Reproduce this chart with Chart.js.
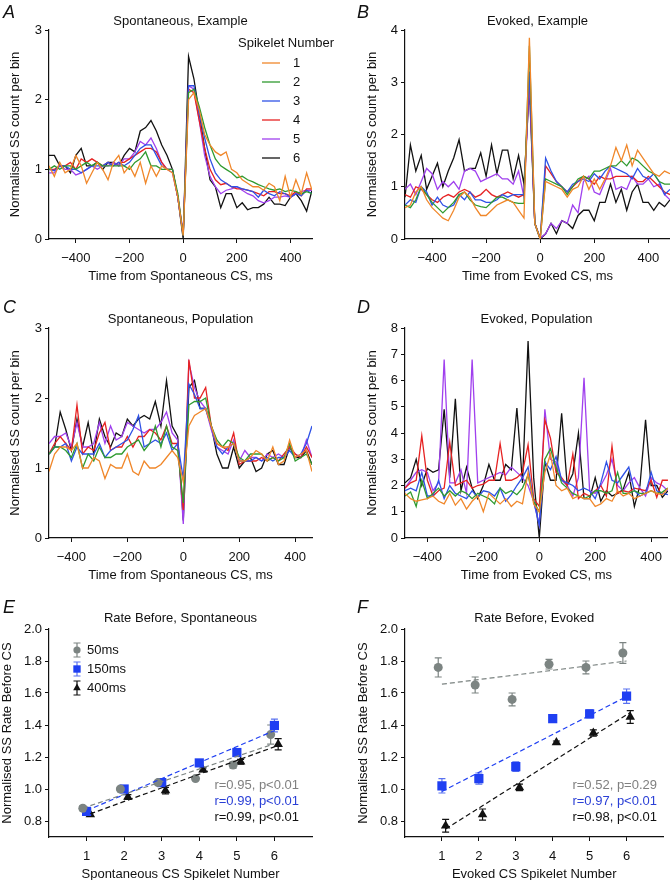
<!DOCTYPE html>
<html>
<head>
<meta charset="utf-8">
<script src="https://cdn.jsdelivr.net/npm/chart.js@4.4.1/dist/chart.umd.min.js"></script>
<style>
  body { margin: 0; background: #fff; width: 670px; height: 880px; position: relative; overflow: hidden;
         font-family: "Liberation Sans", Arial, sans-serif; }
  canvas { position: absolute; }
  .letter { position: absolute; font-style: italic; font-size: 18px; line-height: 18px; color: #111; }
</style>
</head>
<body>
<canvas id="pA" width="335" height="287" style="left:0;top:0"></canvas>
<canvas id="pB" width="335" height="287" style="left:335px;top:0"></canvas>
<canvas id="pC" width="335" height="296" style="left:0;top:290px"></canvas>
<canvas id="pD" width="335" height="296" style="left:335px;top:290px"></canvas>
<canvas id="pE" width="335" height="305" style="left:0;top:580px"></canvas>
<canvas id="pF" width="335" height="305" style="left:335px;top:580px"></canvas>
<div class="letter" style="left:3px;top:3px">A</div>
<div class="letter" style="left:357px;top:3px">B</div>
<div class="letter" style="left:3px;top:298px">C</div>
<div class="letter" style="left:357px;top:298px">D</div>
<div class="letter" style="left:3px;top:598px">E</div>
<div class="letter" style="left:357px;top:598px">F</div>
<script>
// ---- data ----
const spikeletNames = ['1', '2', '3', '4', '5', '6'];
const seriesColors = ['#f0872a', '#2f9a2f', '#2f52e6', '#e62222', '#a040ee', '#111111'];

const binsExample = [-500, -480, -460, -440, -420, -400, -380, -360, -340, -320,
  -300, -280, -260, -240, -220, -200, -180, -160, -140, -120,
  -100, -80, -60, -40, -20, 0, 20, 40, 60, 80,
  100, 120, 140, 160, 180, 200, 220, 240, 260, 280,
  300, 320, 340, 360, 380, 400, 420, 440, 460, 480];
const binsPopulation = [-480, -460, -440, -420, -400, -380, -360, -340, -320, -300,
  -280, -260, -240, -220, -200, -180, -160, -140, -120, -100,
  -80, -60, -40, -20, 0, 20, 40, 60, 80, 100,
  120, 140, 160, 180, 200, 220, 240, 260, 280, 300,
  320, 340, 360, 380, 400, 420, 440, 460];
const timeTicks = [-400, -200, 0, 200, 400];

// A: spontaneous, example
const spontEx1 = [1.05, 0.9, 1.1, 0.95, 1.0, 1.2, 1.05, 0.8, 0.95, 1.1,
  1.0, 0.85, 1.1, 1.2, 0.95, 1.05, 0.9, 1.1, 0.8, 1.05,
  0.9, 1.05, 1.0, 0.95, 0.6, 0.05, 2.0, 2.1, 1.85, 1.5,
  1.35, 1.25, 1.2, 1.25, 1.0, 0.95, 0.85, 0.8, 0.75, 0.75,
  0.7, 0.8, 0.75, 0.55, 0.9, 0.6, 0.85, 0.65, 0.95, 0.7];
const spontEx2 = [1.0, 1.05, 1.0, 1.05, 1.05, 1.0, 1.05, 1.1, 1.05, 1.1,
  1.05, 1.05, 1.05, 1.05, 1.05, 1.0, 1.1, 1.15, 1.25, 1.05,
  1.05, 1.0, 1.0, 1.0, 0.65, 0.05, 2.1, 2.15, 1.9, 1.6,
  1.35, 1.15, 1.05, 1.0, 0.95, 0.88, 0.9, 0.85, 0.82, 0.78,
  0.75, 0.72, 0.7, 0.72, 0.68, 0.7, 0.68, 0.65, 0.68, 0.65];
const spontEx3 = [1.0, 0.98, 1.05, 1.05, 1.0, 1.0, 0.95, 1.0, 1.05, 1.05,
  1.05, 1.1, 1.05, 1.1, 1.05, 1.1, 1.2, 1.3, 1.35, 1.35,
  1.2, 1.05, 1.0, 1.0, 0.6, 0.05, 2.2, 2.2, 1.8, 1.45,
  1.15, 0.95, 0.85, 0.8, 0.75, 0.75, 0.72, 0.7, 0.68, 0.6,
  0.7, 0.65, 0.62, 0.68, 0.65, 0.6, 0.65, 0.62, 0.7, 0.65];
const spontEx4 = [1.0, 1.0, 1.05, 1.05, 1.1, 1.0, 1.15, 1.1, 1.15, 1.1,
  1.05, 1.1, 1.05, 1.1, 1.1, 1.15, 1.2, 1.25, 1.3, 1.3,
  1.25, 1.1, 1.0, 1.0, 0.6, 0.05, 2.15, 2.1, 1.7, 1.3,
  1.0, 0.85, 0.78, 0.8, 0.75, 0.72, 0.72, 0.7, 0.68, 0.65,
  0.62, 0.68, 0.68, 0.65, 0.65, 0.62, 0.68, 0.62, 0.72, 0.72];
const spontEx5 = [0.95, 0.95, 1.05, 1.0, 1.0, 0.92, 0.95, 1.0, 1.05, 1.0,
  1.05, 1.05, 1.1, 1.05, 1.15, 1.15, 1.25, 1.4, 1.35, 1.45,
  1.3, 1.1, 1.0, 0.95, 0.6, 0.1, 2.2, 2.15, 1.7, 1.2,
  0.9, 0.75, 0.65, 0.7, 0.72, 0.75, 0.7, 0.65, 0.62, 0.55,
  0.52, 0.55, 0.6, 0.6, 0.62, 0.6, 0.65, 0.68, 0.7, 0.7];
const spontEx6 = [1.2, 1.2, 1.05, 1.05, 0.95, 1.2, 1.3, 1.05, 1.05, 1.1,
  1.0, 1.1, 1.1, 1.05, 1.2, 1.3, 1.25, 1.55, 1.6, 1.7,
  1.55, 1.35, 1.2, 1.0, 0.6, 0.0, 2.62, 2.3, 1.8, 1.3,
  0.85, 0.75, 0.45, 0.65, 0.65, 0.45, 0.52, 0.42, 0.45, 0.45,
  0.5, 0.6, 0.5, 0.5, 0.48, 0.6, 0.65, 0.55, 0.4, 0.7];

// B: evoked, example
const evokEx1 = [0.6, 0.65, 0.9, 1.0, 0.75, 0.6, 0.5, 0.4, 0.35, 0.55,
  0.8, 0.9, 0.8, 0.6, 0.45, 0.45, 0.55, 0.65, 0.7, 0.75,
  0.7, 0.55, 0.4, 3.85, 0.3, 0.0, 1.1, 1.05, 1.0, 0.95,
  0.8, 0.95, 1.0, 1.2, 0.95, 1.15, 0.95, 1.15, 1.4, 1.75,
  1.5, 1.8, 1.4, 1.7, 1.55, 1.4, 1.25, 1.2, 1.3, 1.25];
const evokEx2 = [0.65, 0.6, 0.75, 1.0, 0.85, 0.7, 0.6, 0.5, 0.6, 0.7,
  0.85, 0.9, 0.75, 0.65, 0.62, 0.6, 0.7, 0.8, 0.8, 0.75,
  0.7, 0.68, 0.68, 3.7, 0.3, 0.0, 1.15, 1.1, 1.05, 1.0,
  0.85, 1.0, 1.15, 1.2, 1.15, 1.3, 1.3, 1.35, 1.4, 1.4,
  1.5, 1.4, 1.55, 1.5, 1.4, 1.3, 1.25, 1.1, 1.05, 1.05];
const evokEx3 = [0.65, 0.75, 0.7, 1.0, 0.9, 0.65, 0.8, 0.65, 0.6, 0.65,
  0.85, 0.75, 0.9, 0.75, 0.75, 0.7, 0.7, 0.75, 0.85, 0.8,
  0.85, 0.85, 0.85, 3.2, 0.3, 0.0, 1.55, 1.3, 1.1, 1.0,
  0.9, 1.05, 1.1, 1.15, 1.1, 1.25, 1.15, 1.3, 1.4, 1.35,
  1.3, 1.25, 1.15, 1.35, 1.2, 1.15, 1.25, 1.1, 0.85, 0.95];
const evokEx4 = [0.85, 0.8, 1.0, 0.95, 0.85, 0.75, 0.7, 0.8, 0.85, 0.8,
  0.9, 0.95, 0.9, 0.8, 0.85, 0.95, 0.85, 0.8, 0.85, 0.9,
  0.85, 0.8, 0.85, 3.2, 0.3, 0.0, 1.4, 1.25, 1.1, 1.0,
  0.9, 1.0, 1.1, 1.2, 1.15, 1.05, 1.2, 1.15, 1.15, 1.2,
  1.2, 1.2, 1.2, 1.1, 1.1, 1.2, 1.1, 1.0, 0.9, 0.85];
const evokEx5 = [0.95, 1.05, 0.85, 1.1, 1.35, 1.25, 0.95, 1.1, 1.0, 1.1,
  0.95, 1.3, 1.35, 1.3, 1.1, 1.15, 1.2, 1.25, 1.15, 1.15,
  1.05, 1.3, 0.8, 3.0, 0.3, 0.02, 0.1, 0.3, 0.2, 0.35,
  0.3, 0.65, 0.5, 1.1, 1.2, 0.9, 0.85, 1.1, 1.35, 0.95,
  1.0, 0.95, 1.2, 1.05, 1.05, 1.15, 1.0, 1.05, 0.85, 0.75];
const evokEx6 = [0.8, 1.8, 1.3, 1.6, 0.95, 1.2, 1.45, 1.0, 1.3, 1.55,
  1.9, 1.3, 1.35, 1.35, 1.65, 1.2, 1.8, 1.25, 1.7, 1.7,
  1.15, 1.6, 1.05, 2.9, 0.3, 0.0, 0.1, 0.3, 0.1, 0.35,
  0.3, 0.2, 0.45, 0.55, 0.55, 0.35, 0.7, 0.7, 1.05, 0.7,
  0.95, 0.55, 0.9, 1.05, 0.7, 0.7, 0.55, 0.7, 0.62, 0.75];

// C: spontaneous, population
const spontPop1 = [0.95, 1.2, 1.3, 1.3, 1.25, 1.35, 1.0, 1.0, 1.15, 1.1,
  0.85, 1.05, 1.0, 1.0, 1.2, 0.95, 0.9, 1.1, 1.0, 1.0,
  1.05, 1.15, 1.25, 1.15, 0.8, 1.6, 1.75, 1.8, 1.85, 1.6,
  1.35, 1.3, 1.3, 1.35, 1.1, 1.1, 1.15, 1.25, 1.2, 1.1,
  1.3, 1.05, 1.1, 1.4, 1.15, 1.2, 1.25, 0.95];
const spontPop2 = [1.2, 1.3, 1.3, 1.25, 1.15, 1.35, 1.0, 1.2, 1.1, 1.3,
  1.15, 1.15, 1.2, 1.2, 1.3, 1.35, 1.4, 1.25, 1.35, 1.6,
  1.3, 1.6, 1.3, 1.25, 0.5, 1.9, 1.95, 1.95, 2.0, 1.6,
  1.4, 1.3, 1.4, 1.35, 1.15, 1.1, 1.2, 1.2, 1.2, 1.1,
  1.15, 1.1, 1.15, 1.35, 1.1, 1.15, 1.2, 1.05];
const spontPop3 = [1.2, 1.3, 1.3, 1.35, 1.1, 1.3, 1.2, 1.2, 1.2, 1.35,
  1.15, 1.25, 1.3, 1.35, 1.4, 1.55, 1.75, 1.3, 1.35, 1.4,
  1.35, 1.5, 1.25, 1.35, 0.85, 2.2, 2.05, 1.85, 1.85, 1.6,
  1.3, 1.2, 1.3, 1.35, 1.1, 1.1, 1.1, 1.15, 1.1, 1.15,
  1.1, 1.15, 1.15, 1.25, 1.15, 1.2, 1.35, 1.6];
const spontPop4 = [1.2, 1.35, 1.45, 1.35, 1.25, 1.9, 1.2, 1.3, 1.25, 1.5,
  1.65, 1.25, 1.3, 1.3, 1.45, 1.3, 1.45, 1.45, 1.55, 1.5,
  1.4, 1.6, 1.35, 1.35, 0.4, 2.55, 2.0, 2.0, 2.15, 1.6,
  1.35, 1.3, 1.25, 1.5, 1.05, 1.1, 1.1, 1.1, 1.15, 1.1,
  1.15, 1.1, 1.2, 1.3, 1.2, 1.15, 1.3, 1.15];
const spontPop5 = [1.35, 1.45, 1.45, 1.5, 1.3, 1.65, 1.3, 1.3, 1.35, 1.65,
  1.35, 1.6, 1.4, 1.45, 1.65, 1.6, 1.55, 1.5, 1.55, 1.55,
  1.65, 1.8, 1.5, 1.4, 0.2, 2.5, 2.15, 1.95, 1.85, 1.55,
  1.3, 1.25, 1.2, 1.4, 1.1, 1.25, 1.15, 1.15, 1.1, 1.2,
  1.15, 1.2, 1.15, 1.3, 1.2, 1.15, 1.4, 1.15];
const spontPop6 = [1.2, 1.3, 1.8, 1.55, 1.25, 1.7, 1.3, 1.65, 1.2, 1.7,
  1.45, 1.3, 1.5, 1.45, 1.7, 1.6, 1.7, 1.75, 1.7, 1.95,
  1.6, 2.25, 1.6, 1.45, 0.25, 2.15, 2.25, 1.85, 1.85, 1.6,
  1.2, 1.0, 1.0, 1.3, 1.0, 1.1, 1.15, 0.95, 1.0, 1.2,
  1.25, 1.05, 1.05, 1.3, 1.15, 1.15, 1.25, 1.05];

// D: evoked, population
const evokPop1 = [1.7, 1.5, 1.4, 1.45, 1.5, 1.6, 1.4, 1.3, 1.7, 1.25,
  1.5, 1.1, 1.4, 1.6, 1.0, 1.7, 1.5, 1.3, 1.5, 1.2,
  1.4, 1.3, 2.5, 1.3, 1.0, 2.5, 3.2, 2.0, 1.8, 1.9,
  1.5, 1.6, 1.5, 1.5, 1.2, 1.3, 1.5, 1.4, 1.8, 1.6,
  1.7, 1.5, 1.6, 1.7, 1.8, 1.7, 1.65, 1.9];
const evokPop2 = [1.6, 1.75, 1.2, 2.2, 1.5, 1.7, 1.9, 1.6, 1.8, 1.6,
  1.8, 1.7, 1.5, 1.7, 1.6, 1.5, 1.3, 1.9, 1.7, 1.8,
  1.65, 1.9, 2.4, 1.4, 1.0, 3.0, 3.4, 2.7, 2.1, 1.9,
  1.7, 1.6, 1.5, 1.6, 1.8, 1.8, 1.7, 1.8, 2.5, 1.7,
  1.7, 1.8, 1.7, 1.7, 1.8, 1.7, 1.75, 1.9];
const evokPop3 = [1.8, 1.9, 1.8, 2.5, 1.6, 1.6, 2.2, 1.5, 2.0, 1.7,
  1.6, 1.5, 1.8, 1.55, 1.8, 1.75, 1.6, 1.9, 1.4, 1.65,
  2.0, 2.3, 2.7, 1.4, 0.5, 2.9, 2.6, 3.1, 2.2, 2.1,
  2.0, 1.8, 1.9, 1.8, 1.5, 2.1, 2.9, 2.2, 2.1, 2.4,
  2.7, 1.8, 1.6, 1.7, 2.5, 1.8, 1.7, 1.65];
const evokPop4 = [1.9, 2.1, 2.2, 3.9, 2.2, 1.6, 1.8, 1.9, 3.65, 2.0,
  2.1, 2.2, 1.9, 2.0, 2.05, 2.2, 2.2, 3.6, 2.2, 2.2,
  2.3, 2.5, 3.55, 1.5, 1.2, 4.5, 3.8, 2.5, 2.3, 2.0,
  3.2, 1.5, 1.7, 1.6, 1.8, 2.0, 1.6, 3.5, 1.7, 1.8,
  1.75, 1.9, 1.85, 1.8, 2.2, 1.55, 2.2, 2.2];
const evokPop5 = [1.9, 2.2, 2.5, 2.6, 2.5, 1.8, 2.1, 6.8, 2.1, 2.1,
  2.6, 1.7, 6.8, 2.1, 2.2, 2.3, 2.4, 2.5, 2.4, 2.7,
  2.5, 2.3, 2.0, 1.4, 0.5, 4.9, 3.0, 2.9, 2.2, 2.0,
  1.6, 2.3, 6.1, 1.8, 1.7, 2.0, 2.4, 3.0, 2.0, 1.8,
  2.1, 2.3, 1.9, 1.6, 2.3, 2.1, 2.0, 1.8];
const evokPop6 = [2.1, 2.3, 3.0, 2.0, 2.65, 2.5, 2.6, 4.9, 2.3, 5.3,
  1.8, 2.7, 1.9, 1.5, 2.0, 2.8, 2.2, 2.2, 2.8, 2.6,
  4.95, 2.1, 7.5, 2.3, 0.0, 2.9, 2.2, 2.2, 4.75, 2.0,
  2.45, 4.0, 1.5, 1.5, 2.3, 1.4, 1.8, 1.6, 1.7, 1.85,
  2.5, 1.2, 2.0, 4.5, 2.0, 2.0, 1.55, 1.8];

// E, F: rate before CS
const spikelets = [1, 2, 3, 4, 5, 6];
const spikeletTicks = [1, 2, 3, 4, 5, 6];
const rateTicks = [0.8, 1.0, 1.2, 1.4, 1.6, 1.8, 2.0];
const rateGroups = ['50ms', '150ms', '400ms'];
const rateOffsets = [-0.1, 0, 0.1];

const spont50 = [0.88, 1.0, 1.04, 1.065, 1.15, 1.34];
const spont50Err = [0.015, 0.01, 0.01, 0.012, 0.02, 0.06];
const spont150 = [0.86, 1.0, 1.04, 1.163, 1.228, 1.397];
const spont150Err = [0.015, 0.012, 0.012, 0.012, 0.015, 0.04];
const spont400 = [0.84, 0.95, 0.99, 1.12, 1.17, 1.28];
const spont400Err = [0.012, 0.015, 0.02, 0.012, 0.015, 0.035];
const spontFit50 = [[0.9, 5.9], [0.88, 1.275]];
const spontFit150 = [[1.0, 6.0], [0.865, 1.365]];
const spontFit400 = [[1.1, 6.1], [0.845, 1.272]];
const spontStats = ['r=0.95, p<0.01', 'r=0.99, p<0.01', 'r=0.99, p<0.01'];

const evok50 = [1.76, 1.65, 1.56, 1.78, 1.76, 1.85];
const evok50Err = [0.06, 0.05, 0.04, 0.03, 0.04, 0.065];
const evok150 = [1.02, 1.065, 1.14, 1.44, 1.47, 1.58];
const evok150Err = [0.045, 0.035, 0.03, 0.01, 0.025, 0.045];
const evok400 = [0.77, 0.84, 1.01, 1.29, 1.35, 1.45];
const evok400Err = [0.04, 0.035, 0.02, 0.01, 0.02, 0.04];
const evokFit50 = [[1.0, 6.0], [1.655, 1.80]];
const evokFit150 = [[1.0, 6.0], [0.985, 1.578]];
const evokFit400 = [[1.1, 6.1], [0.75, 1.478]];
const evokStats = ['r=0.52, p=0.29', 'r=0.97, p<0.01', 'r=0.98, p<0.01'];

const rateColors = ['#7c8482', '#1f3ff2', '#111111'];
const rateErrColors = ['#7c8482', '#5a72f0', '#111111'];
const rateTextColors = ['#808080', '#2a3fd6', '#111111'];
const ratePointStyles = ['circle', 'rect', 'triangle'];
const ratePointSizes = [4.5, 6.5, 5.5];

// ---- setup ----
const FONT = '"Liberation Sans", Arial, sans-serif';
Chart.defaults.font.family = FONT;
Chart.defaults.font.size = 13;
Chart.defaults.color = '#111';

const panelTitle = {
  id: 'panelTitle',
  afterDraw(chart, args, opts) {
    const a = chart.chartArea, ctx = chart.ctx;
    ctx.save();
    ctx.font = '13px ' + FONT;
    ctx.fillStyle = '#111';
    ctx.textAlign = 'center';
    ctx.textBaseline = 'middle';
    ctx.fillText(opts.text, (a.left + a.right) / 2, a.top - opts.gap);
    ctx.restore();
  }
};

const spikeletLegend = {
  id: 'spikeletLegend',
  afterDraw(chart, args, opts) {
    if (!opts.show) return;
    const a = chart.chartArea, ctx = chart.ctx;
    ctx.save();
    ctx.font = '13px ' + FONT;
    ctx.fillStyle = '#111';
    ctx.textBaseline = 'middle';
    ctx.textAlign = 'left';
    ctx.fillText(opts.title, a.left + 189, a.top + 13);
    chart.data.datasets.forEach((ds, i) => {
      const y = a.top + 33 + i * 19;
      ctx.strokeStyle = ds.borderColor;
      ctx.lineWidth = 1.3;
      ctx.beginPath();
      ctx.moveTo(a.left + 213, y);
      ctx.lineTo(a.left + 231, y);
      ctx.stroke();
      ctx.fillText(ds.label, a.left + 244, y);
    });
    ctx.restore();
  }
};

function drawErrBar(ctx, x, y1, y2, color) {
  ctx.strokeStyle = color;
  ctx.lineWidth = 1.2;
  ctx.beginPath();
  ctx.moveTo(x, y1); ctx.lineTo(x, y2);
  ctx.moveTo(x - 3.5, y1); ctx.lineTo(x + 3.5, y1);
  ctx.moveTo(x - 3.5, y2); ctx.lineTo(x + 3.5, y2);
  ctx.stroke();
}

const errorBars = {
  id: 'errorBars',
  beforeDatasetsDraw(chart) {
    const ctx = chart.ctx, ys = chart.scales.y;
    ctx.save();
    chart.data.datasets.forEach((ds, i) => {
      if (!ds.errors) return;
      const meta = chart.getDatasetMeta(i);
      meta.data.forEach((el, j) => {
        const v = ds.data[j].y, e = ds.errors[j];
        drawErrBar(ctx, el.x, ys.getPixelForValue(v + e), ys.getPixelForValue(v - e), ds.errColor);
      });
    });
    ctx.restore();
  }
};

const rateLegend = {
  id: 'rateLegend',
  afterDraw(chart, args, opts) {
    if (!opts.show) return;
    const a = chart.chartArea, ctx = chart.ctx;
    ctx.save();
    ctx.font = '13px ' + FONT;
    ctx.textBaseline = 'middle';
    ctx.textAlign = 'left';
    chart.data.datasets.filter(ds => ds.errors).forEach((ds, i) => {
      const x = a.left + 28, y = a.top + 21 + i * 19;
      drawErrBar(ctx, x, y - 7, y + 7, ds.errColor);
      ctx.fillStyle = ds.backgroundColor;
      ctx.strokeStyle = ds.backgroundColor;
      Chart.helpers.drawPoint(ctx, {pointStyle: ds.pointStyle, radius: ds.pointRadius * 0.8, rotation: 0, borderWidth: 0}, x, y);
      ctx.fillStyle = '#111';
      ctx.fillText(ds.label, x + 10, y);
    });
    ctx.restore();
  }
};

const statsText = {
  id: 'statsText',
  afterDraw(chart, args, opts) {
    const a = chart.chartArea, ctx = chart.ctx;
    ctx.save();
    ctx.font = '13px ' + FONT;
    ctx.textBaseline = 'middle';
    ctx.textAlign = 'right';
    opts.lines.forEach((t, i) => {
      ctx.fillStyle = rateTextColors[i];
      ctx.fillText(t, a.left + opts.right, a.top + 156 + i * 16);
    });
    ctx.restore();
  }
};

function axisX(min, max, ticks, title) {
  return {
    type: 'linear', min: min, max: max,
    afterBuildTicks: s => { s.ticks = ticks.map(v => ({value: v})); },
    afterFit: s => { s.height = 48; },
    grid: {drawOnChartArea: false, drawTicks: true, tickLength: 4, color: '#111'},
    border: {color: '#111', width: 1.2},
    ticks: {padding: 8, color: '#111', maxRotation: 0, autoSkip: false,
            callback: v => String(v).replace('-', '\u2212')},
    title: {display: true, text: title, color: '#111', padding: {top: 0, bottom: 3}}
  };
}

function axisY(min, max, ticks, title, width, titlePad, fmt) {
  return {
    type: 'linear', min: min, max: max,
    afterBuildTicks: s => { s.ticks = ticks.map(v => ({value: v})); },
    afterFit: s => { s.width = width; },
    grid: {drawOnChartArea: false, drawTicks: true, tickLength: 4, color: '#111'},
    border: {color: '#111', width: 1.2},
    ticks: {padding: 3, color: '#111', autoSkip: false, callback: fmt || (v => String(v))},
    title: {display: true, text: title, color: '#111', padding: {top: titlePad, bottom: 0}}
  };
}

function seriesSets(bins, series) {
  return series.map((vals, i) => ({
    label: spikeletNames[i],
    data: bins.map((t, j) => ({x: t, y: vals[j]})),
    borderColor: seriesColors[i],
    backgroundColor: seriesColors[i],
    borderWidth: 1.3,
    pointRadius: 0,
    tension: 0,
    fill: false
  }));
}

function psthChart(id, p) {
  return new Chart(document.getElementById(id), {
    type: 'line',
    data: {datasets: seriesSets(p.bins, p.series)},
    plugins: [panelTitle, spikeletLegend],
    options: {
      responsive: false, animation: false, devicePixelRatio: 1,
      layout: {padding: {left: 0, top: p.top, right: p.right, bottom: 0}},
      scales: {
        x: axisX(p.xMin, p.xMax, timeTicks, p.xTitle),
        y: axisY(0, p.yMax, p.yTicks, 'Normalised SS count per bin', p.yWidth, p.yTitlePad)
      },
      plugins: {
        legend: {display: false}, tooltip: {enabled: false},
        panelTitle: {text: p.title, gap: 9},
        spikeletLegend: {show: !!p.legend, title: 'Spikelet Number'}
      }
    }
  });
}

function rateSets(means, errs, fits) {
  const sets = [];
  rateGroups.forEach((g, k) => {
    sets.push({
      label: g + ' fit',
      data: fits[k][0].map((x, j) => ({x: x, y: fits[k][1][j]})),
      showLine: true, borderColor: rateColors[k], borderDash: [5, 3], borderWidth: 1.2,
      pointRadius: 0
    });
  });
  rateGroups.forEach((g, k) => {
    sets.push({
      label: g,
      data: spikelets.map((s, j) => ({x: s + rateOffsets[k], y: means[k][j]})),
      errors: errs[k], errColor: rateErrColors[k],
      pointStyle: ratePointStyles[k], pointRadius: ratePointSizes[k],
      backgroundColor: rateColors[k], borderColor: rateColors[k], borderWidth: 0
    });
  });
  return sets;
}

function rateChart(id, p) {
  return new Chart(document.getElementById(id), {
    type: 'scatter',
    data: {datasets: rateSets(p.means, p.errs, p.fits)},
    plugins: [panelTitle, errorBars, rateLegend, statsText],
    options: {
      responsive: false, animation: false, devicePixelRatio: 1,
      layout: {padding: {left: 0, top: 49, right: p.right, bottom: 0}},
      scales: {
        x: axisX(0, 7, spikeletTicks, p.xTitle),
        y: axisY(0.7, 2.0, rateTicks, 'Normalised SS Rate Before CS', p.yWidth, p.yTitlePad, v => v.toFixed(1))
      },
      plugins: {
        legend: {display: false}, tooltip: {enabled: false},
        panelTitle: {text: p.title, gap: 11},
        rateLegend: {show: !!p.legend},
        statsText: {lines: p.stats, right: p.statsRight}
      }
    }
  });
}

psthChart('pA', {bins: binsExample, series: [spontEx1, spontEx2, spontEx3, spontEx4, spontEx5, spontEx6],
  xMin: -500, xMax: 480, yMax: 3, yTicks: [0, 1, 2, 3], top: 30, right: 23, yWidth: 49, yTitlePad: 8,
  title: 'Spontaneous, Example', xTitle: 'Time from Spontaneous CS, ms', legend: true});
psthChart('pB', {bins: binsExample, series: [evokEx1, evokEx2, evokEx3, evokEx4, evokEx5, evokEx6],
  xMin: -500, xMax: 480, yMax: 4, yTicks: [0, 1, 2, 3, 4], top: 30, right: 0, yWidth: 70, yTitlePad: 30,
  title: 'Evoked, Example', xTitle: 'Time from Evoked CS, ms'});
psthChart('pC', {bins: binsPopulation, series: [spontPop1, spontPop2, spontPop3, spontPop4, spontPop5, spontPop6],
  xMin: -480, xMax: 460, yMax: 3, yTicks: [0, 1, 2, 3], top: 38, right: 23, yWidth: 49, yTitlePad: 8,
  title: 'Spontaneous, Population', xTitle: 'Time from Spontaneous CS, ms'});
psthChart('pD', {bins: binsPopulation, series: [evokPop1, evokPop2, evokPop3, evokPop4, evokPop5, evokPop6],
  xMin: -480, xMax: 460, yMax: 8, yTicks: [0, 1, 2, 3, 4, 5, 6, 7, 8], top: 38, right: 0, yWidth: 70, yTitlePad: 30,
  title: 'Evoked, Population', xTitle: 'Time from Evoked CS, ms'});
rateChart('pE', {means: [spont50, spont150, spont400], errs: [spont50Err, spont150Err, spont400Err],
  fits: [spontFit50, spontFit150, spontFit400], right: 23, yWidth: 49, yTitlePad: 0,
  title: 'Rate Before, Spontaneous', xTitle: 'Spontaneous CS Spikelet Number', legend: true,
  stats: spontStats, statsRight: 250});
rateChart('pF', {means: [evok50, evok150, evok400], errs: [evok50Err, evok150Err, evok400Err],
  fits: [evokFit50, evokFit150, evokFit400], right: 0, yWidth: 70, yTitlePad: 21,
  title: 'Rate Before, Evoked', xTitle: 'Evoked CS Spikelet Number',
  stats: evokStats, statsRight: 252});
</script>
</body>
</html>
